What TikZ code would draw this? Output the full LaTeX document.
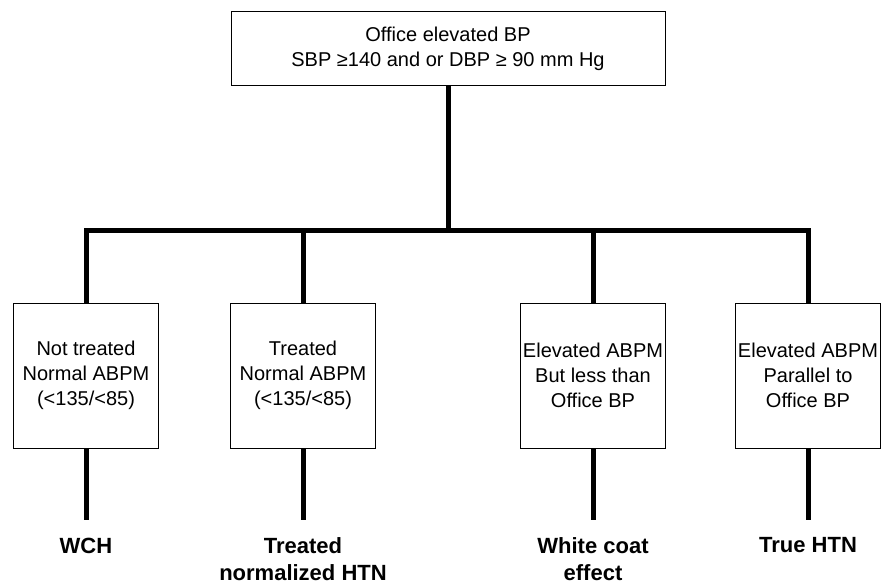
\documentclass[tikz,border=0pt]{standalone}
\usepackage{fontspec}
\setmainfont{Liberation Sans}
\usetikzlibrary{positioning}
\tikzset{
    box nodes/.style={
        draw,
        line width=1pt,
        align=center,
        inner sep=1pt,
        font=\fontsize{20}{25}\selectfont
    },
    top box/.style={
        box nodes,
        minimum width=434pt,
        minimum height=73pt
    },
    case box/.style={
        box nodes,
        minimum width=145pt,
        minimum height=145pt
    },
    outcome/.style={
        align=center,
        inner sep=0pt,
        font=\fontsize{22}{27}\selectfont\bfseries
    },
    trunk/.style={
        line width=5pt
    }
}

\begin{document}
\begin{tikzpicture}[x=1pt,y=-1pt]
          \useasboundingbox (0,0) rectangle (883,586);
          \node[top box] (office) at (448,48.5)
            {Office elevated BP\\SBP ≥140 and or DBP ≥ 90 mm Hg};
          \coordinate (split) at (448,230);

          \node[case box] (nt) at (86,375.5) {Not treated\\Normal ABPM\\(<135/<85)};
          \node[case box] (tr) at (303,375.5) {Treated\\Normal ABPM\\(<135/<85)};
          \node[case box] (wc) at (593,375.5) {Elevated ABPM\\But less than\\Office BP};
          \node[case box] (th) at (808,375.5) {Elevated ABPM\\Parallel to\\Office BP};

          \draw[trunk] (office.south) -- (split);
          \foreach \b in {nt,tr,wc,th}
            \draw[trunk] (split) -| (\b.north);

          \foreach \b/\res in {nt/WCH,tr/{Treated\\normalized HTN},wc/{White coat\\effect},th/True HTN}
          {
            \coordinate (\b-end) at ([yshift=-71pt]\b.south);
            \draw[trunk] (\b.south) -- (\b-end);
            \node[outcome,below=18pt of \b-end] (\b-label) {\res};
          }
        \end{tikzpicture}
\end{document}
